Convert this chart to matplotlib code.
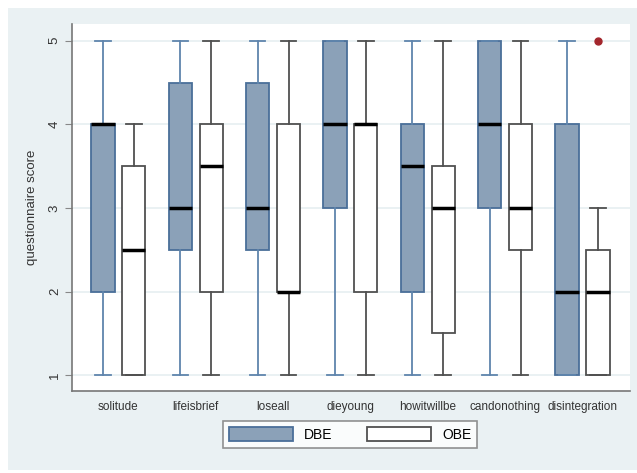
import matplotlib.pyplot as plt
from matplotlib.patches import Rectangle, Patch

plt.rcParams['font.family'] = ['Liberation Sans', 'DejaVu Sans']

items = ["solitude", "lifeisbrief", "loseall", "dieyoung",
         "howitwillbe", "candonothing", "disintegration"]

# DBE group
dbe_lo = [1, 1, 1, 1, 1, 1, 1]
dbe_q1 = [2, 2.5, 2.5, 3, 2, 3, 1]
dbe_med = [4, 3, 3, 4, 3.5, 4, 2]
dbe_q3 = [4, 4.5, 4.5, 5, 4, 5, 4]
dbe_hi = [5, 5, 5, 5, 5, 5, 5]

# OBE group
obe_lo = [1, 1, 1, 1, 1, 1, 1]
obe_q1 = [1, 2, 2, 2, 1.5, 2.5, 1]
obe_med = [2.5, 3.5, 2, 4, 3, 3, 2]
obe_q3 = [3.5, 4, 4, 4, 3.5, 4, 2.5]
obe_hi = [4, 5, 5, 5, 5, 5, 3]
obe_out = [[], [], [], [], [], [], [5]]


def make_stats(lo, q1, med, q3, hi, out=None):
    stats = []
    for i in range(len(lo)):
        stats.append(dict(whislo=lo[i], q1=q1[i], med=med[i], q3=q3[i],
                          whishi=hi[i], fliers=(out[i] if out else [])))
    return stats


W, H = 637, 473
fig = plt.figure(figsize=(W / 100, H / 100), dpi=100, facecolor='white')
fig.patches.append(Rectangle((8 / W, 3 / H), 629 / W, 462 / H,
                             transform=fig.transFigure, facecolor='#EAF1F3',
                             edgecolor='none', zorder=-10))

ax = fig.add_axes([72 / W, 1 - 391 / H, 558 / W, 367 / H])
ax.set_facecolor('white')

pos = list(range(len(items)))
off = 0.2
wid = 0.3

blue_fill = '#8BA1B8'
blue_edge = '#4A6F99'
blue_wh = '#5F85AD'
gray = '#505050'

ax.bxp(make_stats(dbe_lo, dbe_q1, dbe_med, dbe_q3, dbe_hi),
       positions=[p - off for p in pos], widths=wid, patch_artist=True,
       showfliers=False,
       boxprops=dict(facecolor=blue_fill, edgecolor=blue_edge, linewidth=1.3),
       medianprops=dict(color='black', linewidth=2.5),
       whiskerprops=dict(color=blue_wh, linewidth=1.3),
       capprops=dict(color=blue_wh, linewidth=1.3), capwidths=0.2)

ax.bxp(make_stats(obe_lo, obe_q1, obe_med, obe_q3, obe_hi, obe_out),
       positions=[p + off for p in pos], widths=wid, patch_artist=True,
       showfliers=True,
       boxprops=dict(facecolor='white', edgecolor=gray, linewidth=1.3),
       medianprops=dict(color='black', linewidth=2.5),
       whiskerprops=dict(color=gray, linewidth=1.3),
       capprops=dict(color=gray, linewidth=1.3), capwidths=0.2,
       flierprops=dict(marker='o', markerfacecolor='#A3262C',
                       markeredgecolor='#A3262C', markersize=5))

ax.set_xlim(-0.6, 6.615)
ax.set_ylim(0.81, 5.2)
ax.set_xticks(pos)
ax.set_xticklabels(items, fontsize=8.5, color='#333333')
ax.set_yticks([1, 2, 3, 4, 5])
ax.set_yticklabels(['1', '2', '3', '4', '5'], rotation=90, va='center',
                   fontsize=9.5, color='#333333')
ax.tick_params(axis='x', length=0, pad=7)
ax.tick_params(axis='y', length=5, color='#888888', pad=3)
ax.set_ylabel('questionnaire score', fontsize=9.5, color='#333333', labelpad=8)
ax.yaxis.grid(True, color='#E6EFF1', linewidth=1.2)
ax.set_axisbelow(True)
for s in ['top', 'right']:
    ax.spines[s].set_visible(False)
for s in ['left', 'bottom']:
    ax.spines[s].set_color('#777777')
    ax.spines[s].set_linewidth(1.2)

handles = [Patch(facecolor=blue_fill, edgecolor=blue_edge, linewidth=1.3, label='DBE'),
           Patch(facecolor='white', edgecolor=gray, linewidth=1.3, label='OBE')]
leg = fig.legend(handles=handles, loc='center', bbox_to_anchor=(350 / W, 1 - 434.5 / H),
                 ncol=2, frameon=True, fancybox=False, fontsize=10,
                 handlelength=4.6, handleheight=1.2, columnspacing=2.5,
                 handletextpad=0.8, borderpad=0.45)
leg.get_frame().set_edgecolor('#777777')
leg.get_frame().set_linewidth(1.2)

fig.savefig('out.png', dpi=100, facecolor=fig.get_facecolor())
